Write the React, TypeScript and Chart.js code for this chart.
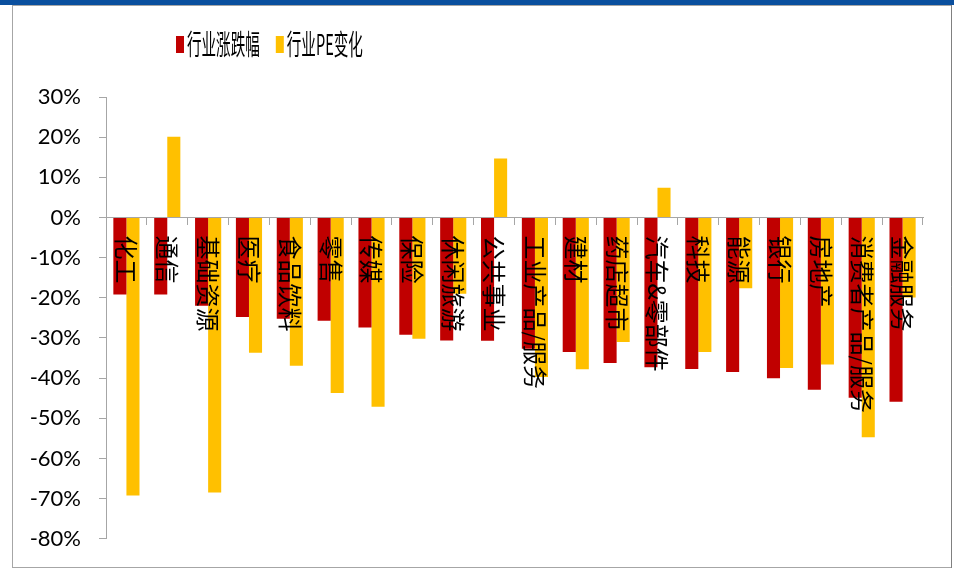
import React, { useEffect, useRef } from 'react';
import { Chart, registerables } from 'chart.js';

Chart.register(...registerables);

const categories = [
  '化工', '通信', '基础资源', '医疗', '食品饮料', '零售', '传媒', '保险', '休闲旅游', '公共事业',
  '工业产品/服务', '建材', '药店超市', '汽车&零部件', '科技', '能源', '银行', '房地产', '消费者产品/服务', '金融服务',
];
const industryChange = [
  -19.2, -19.2, -22.0, -24.8, -25.2, -25.7, -27.4, -29.2, -30.6, -30.7,
  -32.7, -33.5, -36.2, -37.3, -37.7, -38.5, -40.0, -42.9, -44.9, -45.9,
];
const peChange = [
  -69.2, 20.1, -68.5, -33.7, -36.9, -43.7, -47.1, -30.2, -19.0, 14.7,
  -39.7, -37.8, -31.0, 7.4, -33.5, -17.6, -37.5, -36.6, -54.7, -19.9,
];
const seriesNames = ['行业涨跌幅', '行业PE变化'];
const seriesColors = ['#C00000', '#FFC000'];
const yMin = -80;
const yMax = 30;
const yStep = 10;

const CJK = '"Noto Sans CJK SC", "Noto Sans", sans-serif';

export default function App() {
  const ref = useRef<HTMLCanvasElement>(null);

  useEffect(() => {
    document.body.style.margin = '0';
    const canvas = ref.current;
    if (!canvas) return;

    const framePlugin = {
      id: 'frame',
      beforeDraw(chart: any) {
        const ctx = chart.ctx;
        ctx.save();
        ctx.fillStyle = '#ffffff';
        ctx.fillRect(0, 0, chart.width, chart.height);
        ctx.fillStyle = '#0A4F9E';
        ctx.fillRect(0, 0, chart.width, 5);
        ctx.strokeStyle = '#A6A6A6';
        ctx.lineWidth = 1;
        ctx.strokeRect(12.5, 5.5, 939, 562);
        ctx.strokeStyle = '#808080';
        ctx.beginPath();
        ctx.moveTo(951.5, 5);
        ctx.lineTo(951.5, 568);
        ctx.stroke();
        ctx.restore();
      },
    };

    const legendPlugin = {
      id: 'customLegend',
      afterDraw(chart: any) {
        const ctx = chart.ctx;
        const sx = 0.52;
        ctx.save();
        ctx.font = `28px ${CJK}`;
        ctx.textBaseline = 'middle';
        let x = 176;
        chart.data.datasets.forEach((ds: any) => {
          ctx.fillStyle = ds.backgroundColor;
          ctx.fillRect(x, 36, 8, 17);
          x += 11;
          ctx.fillStyle = '#000';
          ctx.save();
          ctx.translate(x, 44);
          ctx.scale(sx, 1);
          ctx.fillText(ds.label, 0, 0);
          ctx.restore();
          x += ctx.measureText(ds.label).width * sx + 16;
        });
        ctx.restore();
      },
    };

    const catLabelPlugin = {
      id: 'catLabels',
      afterDatasetsDraw(chart: any) {
        const ctx = chart.ctx;
        const xs = chart.scales.x;
        const ys = chart.scales.y;
        const y0 = ys.getPixelForValue(0);
        ctx.save();
        ctx.font = `24px ${CJK}`;
        ctx.fillStyle = '#000';
        ctx.textAlign = 'left';
        ctx.textBaseline = 'middle';
        chart.data.labels.forEach((lab: string, i: number) => {
          const cx = xs.getPixelForValue(i);
          ctx.save();
          ctx.translate(cx, y0 + 18);
          ctx.rotate(Math.PI / 2);
          ctx.fillText(lab, 0, 0);
          ctx.restore();
        });
        ctx.restore();
      },
    };

    const chart = new Chart(canvas, {
      type: 'bar',
      data: {
        labels: categories,
        datasets: [
          {
            label: seriesNames[0],
            data: industryChange,
            backgroundColor: seriesColors[0],
            borderWidth: 0,
            categoryPercentage: 0.64,
            barPercentage: 1.0,
          },
          {
            label: seriesNames[1],
            data: peChange,
            backgroundColor: seriesColors[1],
            borderWidth: 0,
            categoryPercentage: 0.64,
            barPercentage: 1.0,
          },
        ],
      },
      options: {
        responsive: false,
        animation: false,
        layout: { padding: { left: 6, right: 31, top: 97, bottom: 30 } },
        plugins: {
          legend: { display: false },
          tooltip: { enabled: false },
        },
        scales: {
          x: {
            position: { y: 0 } as any,
            offset: true,
            ticks: { display: false },
            grid: {
              offset: true,
              drawOnChartArea: false,
              drawTicks: true,
              tickLength: 7,
              color: '#A6A6A6',
            },
            border: { color: '#A6A6A6', width: 1 },
          },
          y: {
            min: yMin,
            max: yMax,
            afterFit(scale: any) {
              scale.width = 100;
            },
            ticks: {
              stepSize: yStep,
              padding: 18,
              color: '#000',
              font: { family: 'Lato, "Liberation Sans", sans-serif', size: 22 },
              callback: (v: any) => `${v}%`,
            },
            grid: {
              drawOnChartArea: false,
              drawTicks: true,
              tickLength: 7,
              color: '#A6A6A6',
            },
            border: { color: '#A6A6A6', width: 1 },
          },
        },
      },
      plugins: [framePlugin, catLabelPlugin, legendPlugin],
    });

    return () => chart.destroy();
  }, []);

  return (
    <div style={{ width: 954, height: 570 }}>
      <canvas ref={ref} width={954} height={570} style={{ display: 'block' }} />
    </div>
  );
}
